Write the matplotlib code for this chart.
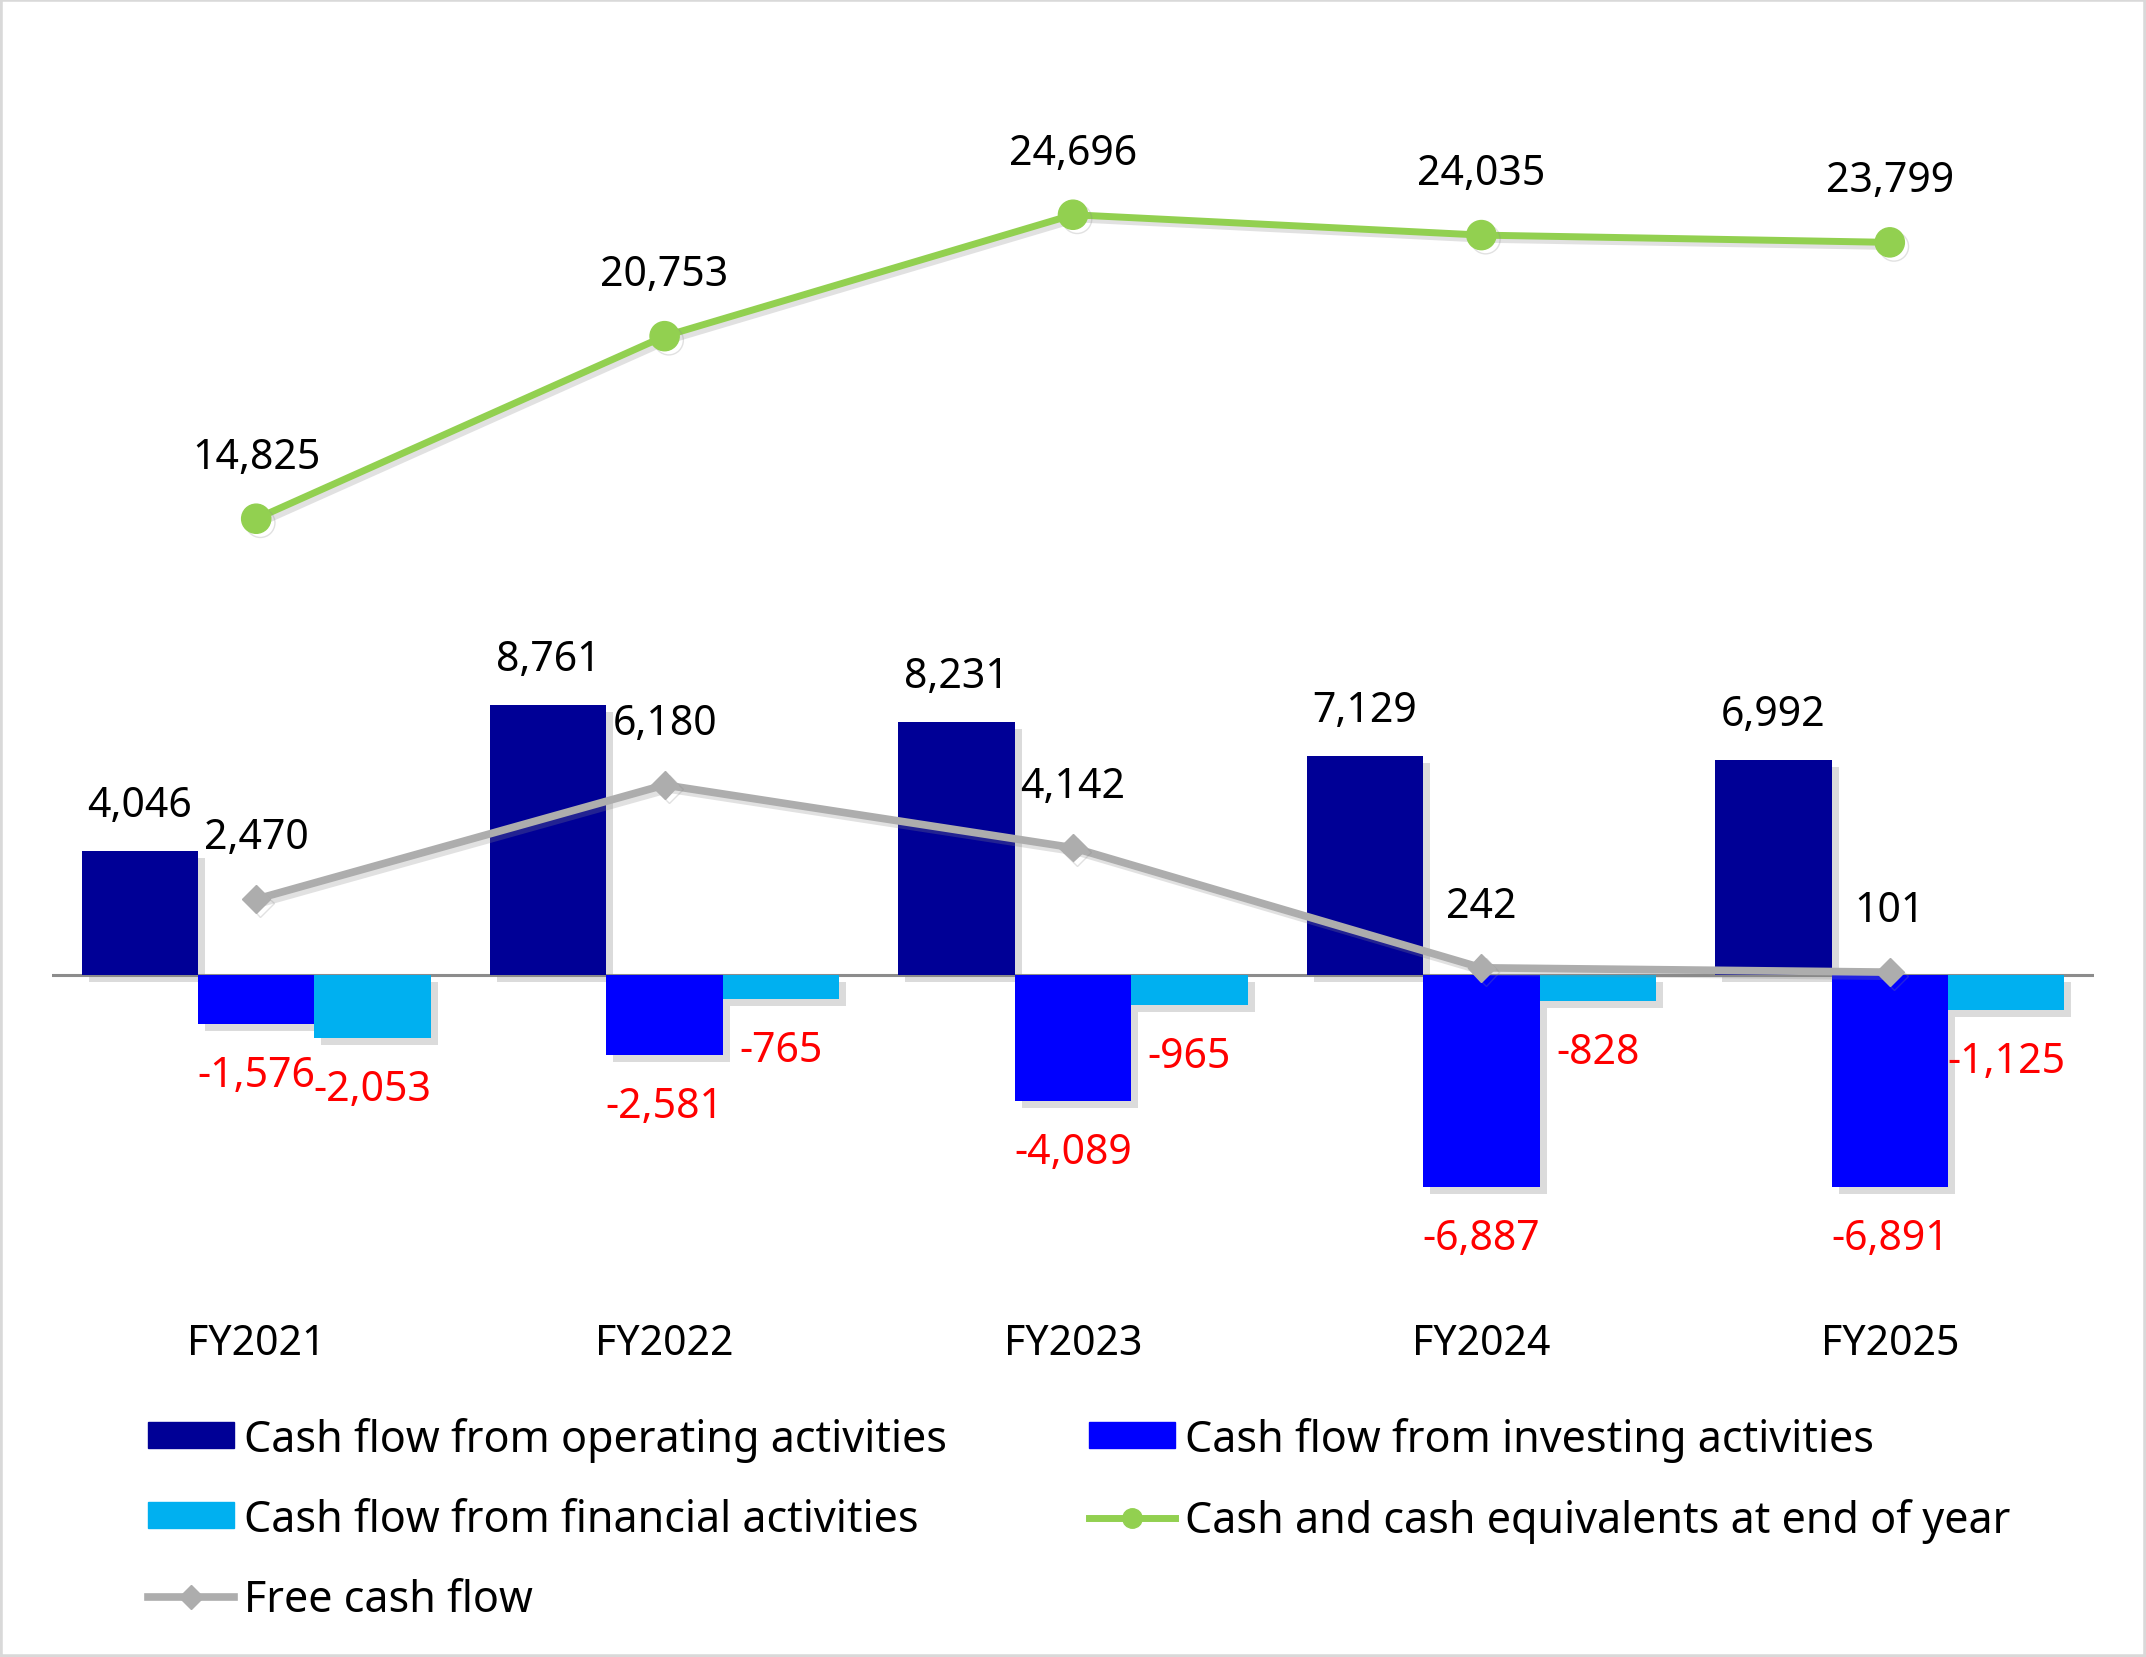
import numpy as np
import matplotlib.pyplot as plt
import matplotlib.patheffects as pe
from matplotlib.patches import Patch, Rectangle
from matplotlib.lines import Line2D

plt.rcParams['font.family'] = ['Noto Sans', 'DejaVu Sans']

years = ['FY2021', 'FY2022', 'FY2023', 'FY2024', 'FY2025']
operating = [4046, 8761, 8231, 7129, 6992]
investing = [-1576, -2581, -4089, -6887, -6891]
financial = [-2053, -765, -965, -828, -1125]
cash_end = [14825, 20753, 24696, 24035, 23799]
free_cf = [2470, 6180, 4142, 242, 101]

C_OP = '#000096'
C_INV = '#0000FF'
C_FIN = '#00B0F0'
C_CASH = '#92D050'
C_FCF = '#ADADAD'

W, H = 2146, 1658
fig = plt.figure(figsize=(W / 100, H / 100), dpi=100)
ax = fig.add_axes([52 / W, 1 - 1315 / H, 2042 / W, (1315 - 114) / H])

x = np.arange(len(years))
bw = 0.285
bar_fx = [pe.SimplePatchShadow(offset=(5, -5), shadow_rgbFace='#888888', alpha=0.3), pe.Normal()]
line_fx = [pe.SimpleLineShadow(offset=(3, -3), shadow_color='#888888', alpha=0.25), pe.Normal()]

ax.axhline(0, color='#8C8C8C', lw=2.2, zorder=1)
ax.bar(x - bw, operating, bw, color=C_OP, zorder=2, path_effects=bar_fx)
ax.bar(x, investing, bw, color=C_INV, zorder=2, path_effects=bar_fx)
ax.bar(x + bw, financial, bw, color=C_FIN, zorder=2, path_effects=bar_fx)

ax.plot(x, free_cf, color=C_FCF, lw=5.5, marker='D', ms=14, zorder=3, path_effects=line_fx)
ax.plot(x, cash_end, color=C_CASH, lw=5, marker='o', ms=21, zorder=4, path_effects=line_fx)

fs = 29.5

def lab(xv, yv, dy, color='black'):
    ax.annotate(f'{yv:,}', (xv, yv), xytext=(0, dy), textcoords='offset pixels',
                ha='center', va='center', fontsize=fs, color=color, zorder=6)

for i in range(len(years)):
    lab(x[i] - bw, operating[i], 46)
    lab(x[i], investing[i], -51, 'red')
    lab(x[i] + bw, financial[i], -51, 'red')
    lab(x[i], free_cf[i], 62)
    lab(x[i], cash_end[i], 62)

ax.set_xlim(-0.5, 4.5)
ax.set_ylim(-11000, 28000)
ax.set_xticks(x)
ax.set_xticklabels(years, fontsize=fs)
ax.tick_params(axis='x', length=0, pad=6)
ax.set_yticks([])
for s in ax.spines.values():
    s.set_visible(False)

h_op = Patch(color=C_OP)
h_fin = Patch(color=C_FIN)
h_inv = Patch(color=C_INV)
h_fcf = Line2D([], [], color=C_FCF, lw=5.5, marker='D', ms=12)
h_cash = Line2D([], [], color=C_CASH, lw=5, marker='o', ms=14)

lfs = 31
leg_kw = dict(fontsize=lfs, frameon=False, loc='upper left', borderpad=0,
              handlelength=2.0, handleheight=0.55, handletextpad=0.25, labelspacing=0.84)
fig.legend([h_op, h_fin, h_fcf],
           ['Cash flow from operating activities', 'Cash flow from financial activities', 'Free cash flow'],
           bbox_to_anchor=(126 / W, 1 - 1396 / H), **leg_kw)
fig.legend([h_inv, h_cash],
           ['Cash flow from investing activities', 'Cash and cash equivalents at end of year'],
           bbox_to_anchor=(1067 / W, 1 - 1396 / H), **leg_kw)

fig.patches.append(Rectangle((0, 0), 1, 1, transform=fig.transFigure, fill=False,
                             edgecolor='#D9D9D9', lw=4))

fig.savefig('out.png', dpi=100)
